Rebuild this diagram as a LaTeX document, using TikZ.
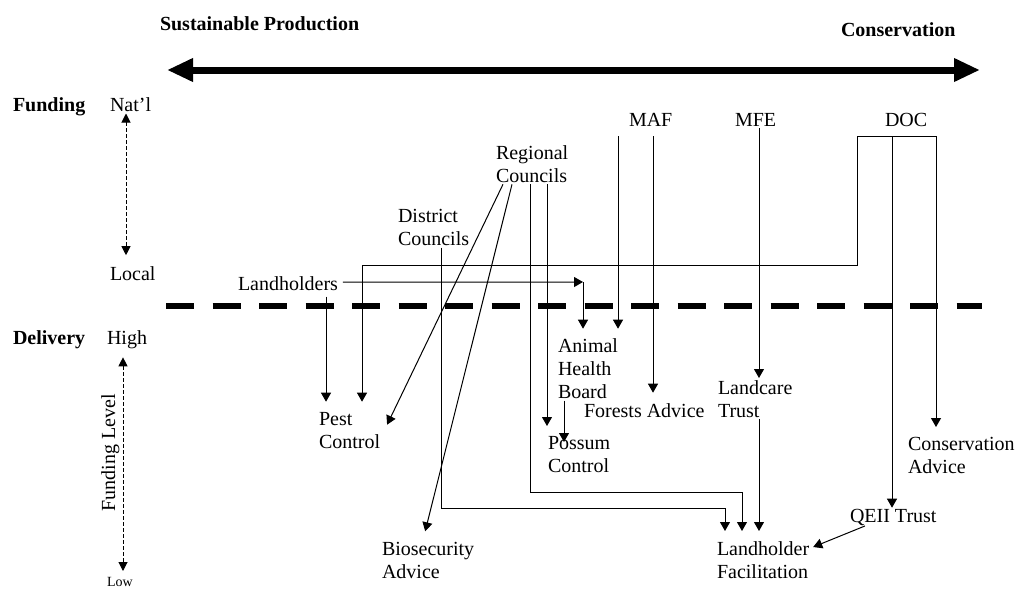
\documentclass[tikz,border=0pt]{standalone}
\usepackage{fontspec}
\setmainfont{Liberation Serif}
\usetikzlibrary{arrows.meta}
\newcommand\mystrut{\rule[-2pt]{0pt}{17pt}}
\begin{document}
\begin{tikzpicture}[x=1pt,y=-1pt,
  lbl/.style={inner sep=0pt, outer sep=0pt, align=left, font=\fontsize{20}{23}\selectfont},
  bold/.style={lbl, font=\fontsize{20}{23}\selectfont\bfseries},
  arr/.style={-{Triangle[length=9pt,width=10pt]}, line width=1pt},
  line/.style={line width=1pt},
  darr/.style={{Triangle[length=9pt,width=9pt]}-{Triangle[length=9pt,width=9pt]}, line width=1pt, dash pattern=on 4pt off 2pt},
  spectrum/.style={line width=7pt, {Triangle[length=26pt,width=22pt]}-{Triangle[length=26pt,width=22pt]}},
  divider/.style={line width=6pt, dash pattern=on 28pt off 18.5pt}]
\fill[white] (0,0) rectangle (1020,589);
\useasboundingbox (0,0) rectangle (1020,589);

% top axis
\node[bold, anchor=base west] (sp) at (160,30) {Sustainable Production};
\node[bold, anchor=base west] (cons) at (841,36.5) {Conservation};
\coordinate (spL) at (167,70);
\coordinate (spR) at (980,70);
\draw[spectrum] (spL) -- (spR);

% left axis labels
\node[bold, anchor=base west] (funding) at (13,111.5) {Funding};
\node[lbl, anchor=base west] (natl) at (110,111.5) {\mystrut Nat’l};
\node[lbl, anchor=base west] (local) at (110,280.7) {\mystrut Local};
\node[bold, anchor=base west] (delivery) at (13,344) {Delivery};
\node[lbl, anchor=base west] (high) at (107,344) {\mystrut High};
\node[lbl, anchor=base west, font=\fontsize{14}{16}\selectfont] (low) at (107,586) {\mystrut Low};
\node[lbl, anchor=base, rotate=90] (fl) at (115,453) {Funding Level};
\draw[darr, shorten >=10.5pt] (natl.south -| 126,0) -- (local.north -| 126,0);
\draw[darr, shorten <=9pt] (high.south -| 123,0) -- (low.north -| 123,0);

% divider
\coordinate (dvL) at (166,306);
\coordinate (dvR) at (982,306);
\draw[divider] (dvL) -- (dvR);

% funders
\node[lbl, anchor=north west] (reg) at (496,144.3) {\mystrut Regional\\\mystrut Councils};
\node[lbl, anchor=north west] (dist) at (398,207.7) {\mystrut District\\\mystrut Councils};
\node[lbl, anchor=base west] (land) at (238,290.7) {\mystrut Landholders};
\node[lbl, anchor=base west] (maf) at (629,126) {\mystrut MAF};
\node[lbl, anchor=base west] (mfe) at (735,126) {\mystrut MFE};
\node[lbl, anchor=base west] (doc) at (885,126) {\mystrut DOC};

% delivery
\node[lbl, anchor=north west] (ahb) at (558,337.7) {\mystrut Animal\\\mystrut Health\\\mystrut Board};
\node[lbl, anchor=base west] (fa) at (584,417.7) {\mystrut Forests Advice};
\node[lbl, anchor=north west] (pest) at (319,410.7) {\mystrut Pest\\\mystrut Control};
\node[lbl, anchor=north west] (pos) at (548,434) {\mystrut Possum\\\mystrut Control};
\node[lbl, anchor=north west] (lct) at (718,379) {\mystrut Landcare\\\mystrut Trust};
\node[lbl, anchor=north west] (ca) at (908,435) {\mystrut Conservation\\\mystrut Advice};
\node[lbl, anchor=base west] (qe) at (850,522.7) {\mystrut QEII Trust};
\node[lbl, anchor=north west] (lf) at (717,540) {\mystrut Landholder\\\mystrut Facilitation};
\node[lbl, anchor=north west] (bio) at (382,540) {\mystrut Biosecurity\\\mystrut Advice};

% bend coordinates
\coordinate (c1) at (583,282);
\coordinate (dL) at (857,136);
\coordinate (dM) at (892,136);
\coordinate (dR) at (936,136);
\coordinate (dB) at (857,265);
\coordinate (dP) at (362,265);
\coordinate (rc1) at (530,492);
\coordinate (rc2) at (742,492);
\coordinate (dc1) at (441,508);
\coordinate (dc2) at (725,508);

% Landholders
\draw[arr] ([shift={(5,-2)}]land.east) -- (c1);
\draw[arr, shorten >=9pt] (c1) -- (ahb.north -| c1);
\draw[arr, shorten <=4pt, shorten >=9pt] (land.south -| 326,0) -- (pest.north -| 326,0);

% DOC
\draw[line] (dL) -- (dR);
\draw[arr, shorten >=9pt] (dL) -- (dB) -- (dP) -- (pest.north -| dP);
\draw[arr] (dM) -- (qe.north -| dM);
\draw[arr, shorten >=8pt] (dR) -- (ca.north -| dR);

% MAF, MFE
\draw[arr, shorten <=8pt, shorten >=9pt] (maf.south -| 618,0) -- (ahb.north -| 618,0);
\draw[arr, shorten <=8pt, shorten >=10pt] (maf.south -| 653,0) -- (fa.north -| 653,0);
\draw[arr, shorten >=1pt] (mfe.south -| 759,0) -- (lct.north -| 759,0);
\draw[arr, shorten >=9pt] (lct.south -| 759,0) -- (lf.north -| 759,0);

% Regional Councils
\draw[arr] (reg.south -| 503,0) -- ([shift={(7,-6)}]pest.east);
\draw[arr, shorten >=9pt] (reg.south -| 512,0) -- (bio.north -| 423,0);
\draw[arr, shorten >=9pt] (reg.south -| rc1) -- (rc1) -- (rc2) -- (lf.north -| rc2);
\draw[arr, shorten >=8pt] (reg.south -| 547,0) -- (pos.north -| 547,0);

% District Councils
\draw[arr, shorten >=9pt] (dist.south -| dc1) -- (dc1) -- (dc2) -- (lf.north -| dc2);

% Animal Health Board -> Possum Control
\draw[arr, shorten >=-8pt] (ahb.south -| 564,0) -- (pos.north -| 564,0);

% QEII -> Landholder Facilitation
\draw[arr] ([xshift=15pt]qe.south west) -- ([shift={(4,7)}]lf.north east);
\end{tikzpicture}
\end{document}
